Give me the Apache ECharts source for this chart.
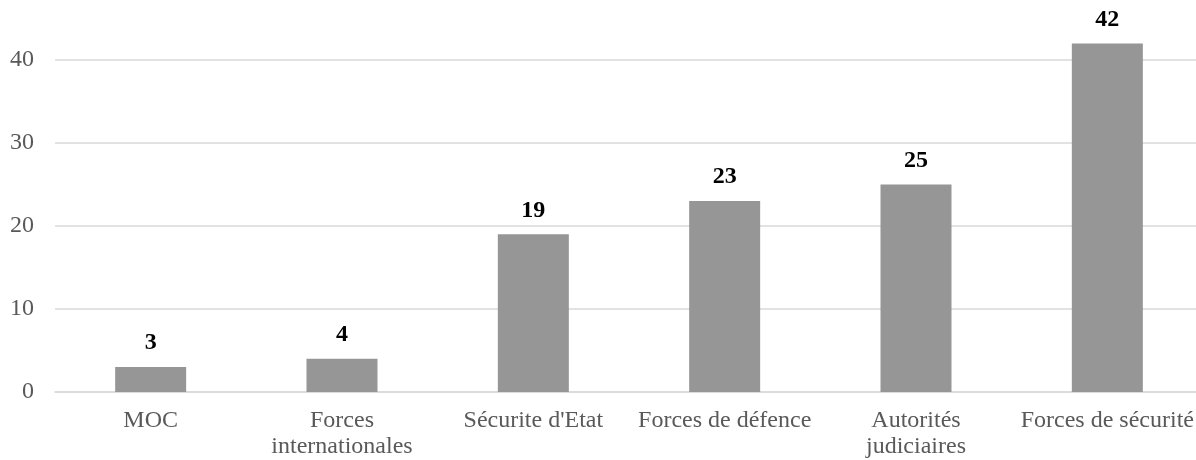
<!DOCTYPE html>
<html>
<head>
<meta charset="utf-8">
<script src="https://cdn.jsdelivr.net/npm/echarts@6/dist/echarts.min.js"></script>
<style>html,body{margin:0;padding:0;background:#fff;overflow:hidden;}#c{width:1196px;height:460px;}</style>
</head>
<body>
<div id="c"></div>
<script>
const categories = ["MOC", "Forces internationales", "Sécurite d'Etat", "Forces de défence", "Autorités judiciaires", "Forces de sécurité"];
const tickLabels = ["MOC", "Forces\ninternationales", "Sécurite d'Etat", "Forces de défence", "Autorités\njudiciaires", "Forces de sécurité"];
const values = [3, 4, 19, 23, 25, 42];
const yTicks = [0, 10, 20, 30, 40];

const chart = echarts.init(document.getElementById('c'), null, {renderer: 'canvas'});
chart.setOption({
  animation: false,
  backgroundColor: '#ffffff',
  grid: {left: 55, width: 1148, top: 60, height: 332, containLabel: false, outerBoundsMode: 'none'},
  xAxis: {
    type: 'category',
    data: categories,
    axisLine: {show: true, lineStyle: {color: '#d9d9d9', width: 1.5}},
    axisTick: {show: false},
    axisLabel: {
      interval: 0,
      margin: 16,
      color: '#595959',
      fontFamily: 'Liberation Serif',
      fontSize: 24,
      lineHeight: 26,
      formatter: function (v, i) { return tickLabels[i]; }
    }
  },
  yAxis: {
    type: 'value',
    min: yTicks[0],
    max: yTicks[yTicks.length - 1],
    interval: 10,
    axisLine: {show: false},
    axisTick: {show: false},
    splitLine: {show: true, lineStyle: {color: '#d9d9d9', width: 1.5}},
    axisLabel: {
      margin: 21,
      color: '#595959',
      fontFamily: 'Liberation Serif',
      fontSize: 24
    }
  },
  series: [{
    type: 'bar',
    data: values,
    barWidth: 71,
    clip: false,
    itemStyle: {color: '#969696'},
    label: {
      show: true,
      position: 'top',
      distance: 12,
      color: '#000000',
      fontFamily: 'Liberation Serif',
      fontWeight: 'bold',
      fontSize: 24
    }
  }]
});
</script>
</body>
</html>
